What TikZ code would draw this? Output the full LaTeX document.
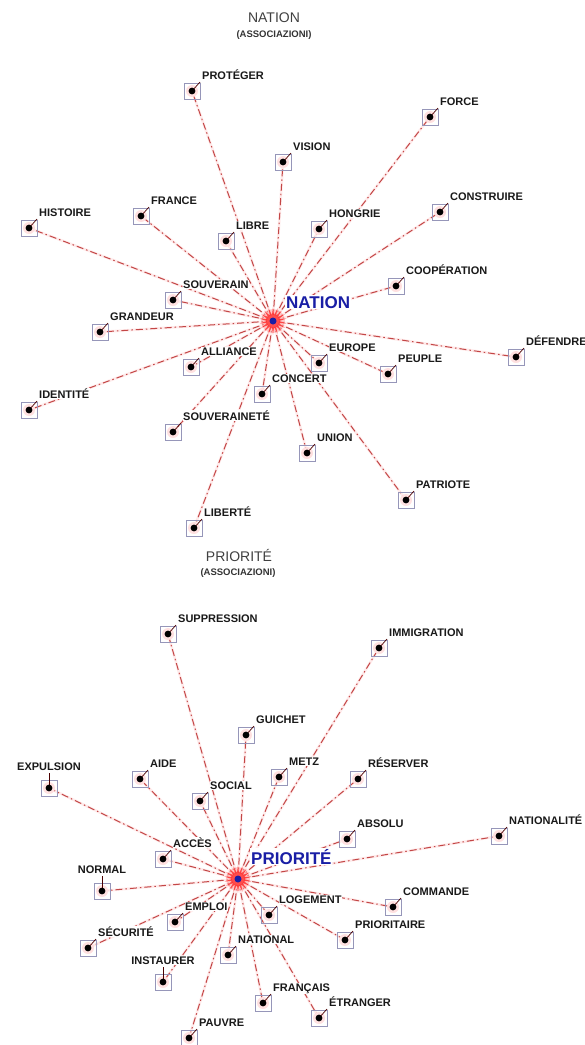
\documentclass[tikz,border=0pt]{standalone}
\usepackage{fontspec}
\setmainfont{Liberation Sans}
\usetikzlibrary{shapes.geometric,calc}
\pgfdeclarelayer{bg}
\pgfsetlayers{bg,main}
\definecolor{linec}{RGB}{195,70,70}
\definecolor{iconc}{RGB}{150,150,185}
\definecolor{centc}{RGB}{25,30,165}
\definecolor{labc}{RGB}{25,25,25}
\tikzset{
  lab/.style={font=\bfseries\fontsize{11}{12}\selectfont, text=labc, inner sep=0.5pt, fill=white},
  ttl/.style={font=\fontsize{14}{16}\selectfont, text=black!75, inner sep=0pt},
  sub/.style={font=\bfseries\fontsize{9.5}{11}\selectfont, text=black!80, inner sep=0pt},
  ctr/.style={font=\bfseries\fontsize{17}{19}\selectfont, text=centc, inner sep=1pt, fill=white},
  icon/.style={draw=iconc, line width=0.7pt, minimum size=16pt, inner sep=0pt},
  halo/.style={draw=red!8, line width=2.6pt},
  conn/.style={draw=linec, line width=1pt, dash pattern=on 7pt off 3pt on 1.5pt off 3pt},
  tickl/.style={draw=black!70!red, line width=0.7pt},
  burst/.style={star, star points=18, star point ratio=2.2, fill=red!85, minimum size=27pt, inner sep=0pt, opacity=0.8}
}
\begin{document}
\begin{tikzpicture}[x=1pt,y=-1pt]
\useasboundingbox (0,0) rectangle (585,1045);
% titles
\node[ttl] (t1) at (274,18) {NATION};
\node[sub] (s1) at (274,35) {(ASSOCIAZIONI)};
\node[ttl] (t2) at (239,555) {PRIORITÉ};
\node[sub] (s2) at (238,573) {(ASSOCIAZIONI)};
% centres
\coordinate (c1) at (273,321);
\coordinate (c2) at (238,879);
\node[ctr, anchor=base west] (c1l) at (285,308) {NATION};
\node[ctr, anchor=base west] (c2l) at (250,864) {PRIORITÉ};
% NATION nodes
\foreach \n/\x/\y/\t in {
 p1/192/91/PROTÉGER, p2/430/117/FORCE, p3/283/162/VISION, p4/29/228/HISTOIRE,
 p5/141/216/FRANCE, p6/226/241/LIBRE, p7/319/229/HONGRIE, p8/440/212/CONSTRUIRE,
 p9/173/300/SOUVERAIN, p10/396/286/COOPÉRATION, p11/100/332/GRANDEUR,
 p12/516/357/DÉFENDRE, p13/191/367/ALLIANCE, p14/319/363/EUROPE,
 p15/388/374/PEUPLE, p16/29/410/IDENTITÉ, p17/262/394/CONCERT,
 p18/173/432/SOUVERAINETÉ, p19/307/453/UNION, p20/406/500/PATRIOTE,
 p21/194/528/LIBERTÉ}{
  \node[icon] (\n) at (\x,\y) {};
  \coordinate (\n-t) at (\x+8,\y-9);
  \node[lab, anchor=base west] (\n-l) at (\x+9.5,\y-12) {\t};
}
% PRIORITE nodes
\foreach \n/\x/\y/\t in {
 q1/168/634/SUPPRESSION, q2/379/648/IMMIGRATION, q3/246/735/GUICHET,
 q5/140/779/AIDE, q6/279/777/METZ, q7/358/779/RÉSERVER, q8/200/801/SOCIAL,
 q9/347/839/ABSOLU, q10/499/836/NATIONALITÉ, q11/163/859/ACCÈS,
 q13/269/915/LOGEMENT, q14/393/907/COMMANDE, q15/175/922/EMPLOI,
 q16/345/940/PRIORITAIRE, q17/88/948/SÉCURITÉ, q18/228/955/NATIONAL,
 q20/263/1003/FRANÇAIS, q21/319/1018/ÉTRANGER, q22/189/1038/PAUVRE}{
  \node[icon] (\n) at (\x,\y) {};
  \coordinate (\n-t) at (\x+8,\y-9);
  \node[lab, anchor=base west] (\n-l) at (\x+9.5,\y-12) {\t};
}
\foreach \n/\x/\y/\t in {q4/49/788/EXPULSION, q12/102/891/NORMAL, q19/163/982/INSTAURER}{
  \node[icon] (\n) at (\x,\y) {};
  \coordinate (\n-t) at (\x,\y-15);
  \node[lab, anchor=base] (\n-l) at (\x,\y-18) {\t};
}
% connectors (soft halo, then dash-dot line) behind everything
\begin{pgfonlayer}{bg}
\foreach \i in {1,...,21} \draw[halo] (c1) -- (p\i.center);
\foreach \i in {1,...,22} \draw[halo] (c2) -- (q\i.center);
\foreach \i in {1,...,21} \draw[conn] (c1) -- (p\i.center);
\foreach \i in {1,...,22} \draw[conn] (c2) -- (q\i.center);
\end{pgfonlayer}
% dots
\foreach \i in {1,...,21}{
  \fill[red!12] (p\i.center) circle (6pt);
  \draw[tickl] (p\i.center) -- (p\i-t);
  \fill[black] (p\i.center) circle (3.4pt);
}
\foreach \i in {1,...,22}{
  \fill[red!12] (q\i.center) circle (6pt);
  \draw[tickl] (q\i.center) -- (q\i-t);
  \fill[black] (q\i.center) circle (3.4pt);
}
% centre bursts
\fill[red!35, opacity=0.6] (c1) circle (12pt);
\node[burst] (b1) at (c1) {};
\fill[red!70] (c1) circle (6pt);
\fill[centc] (c1) circle (3.5pt);
\fill[red!35, opacity=0.6] (c2) circle (12pt);
\node[burst] (b2) at (c2) {};
\fill[red!70] (c2) circle (6pt);
\fill[centc] (c2) circle (3.5pt);
\end{tikzpicture}
\end{document}
